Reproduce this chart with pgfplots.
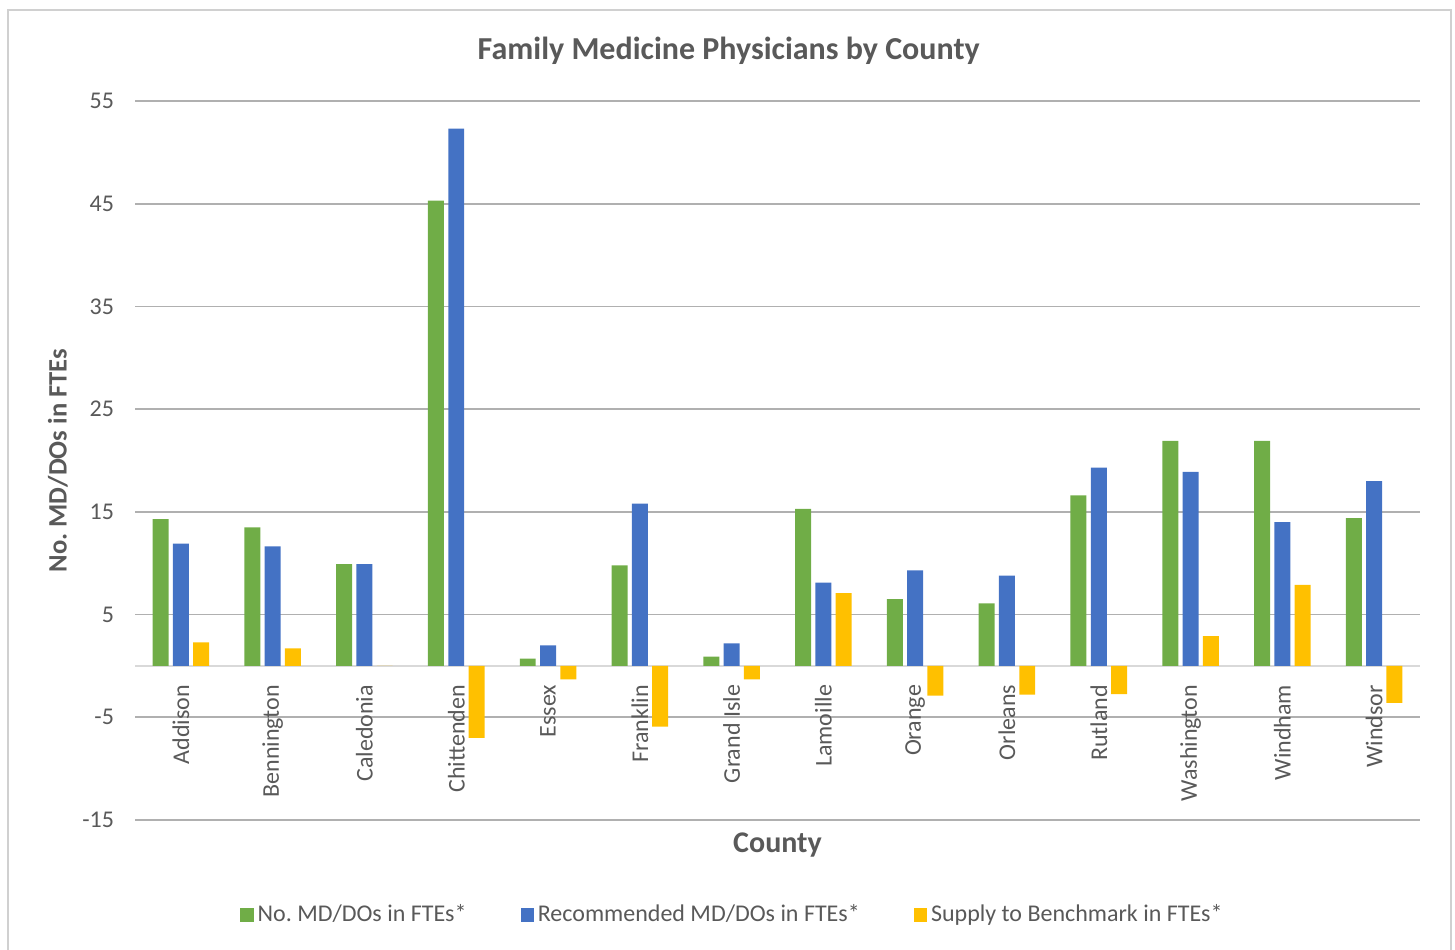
\documentclass[border=0pt]{standalone}
\usepackage{pgfplots}
\pgfplotsset{compat=1.18}
\usepackage{fontspec}
\setmainfont{Carlito}
\definecolor{cgreen}{HTML}{70AD47}
\definecolor{cblue}{HTML}{4472C4}
\definecolor{cyellow}{HTML}{FFC000}
\definecolor{ctext}{HTML}{595959}
\definecolor{cgrid}{HTML}{B0B0B0}
\definecolor{czero}{HTML}{D9D9D9}
\definecolor{cborder}{HTML}{D0D0D0}
\begin{document}
\begin{tikzpicture}
\path[use as bounding box] (0pt,0pt) rectangle (727.5pt,474.5pt);
\draw[cborder, line width=1pt] (3.75pt,-5pt) -- (3.75pt,469.25pt) -- (725.5pt,469.25pt) -- (725.5pt,-5pt);
\begin{axis}[
  scale only axis,
  width=642.5pt, height=359.5pt,
  at={(67.5pt,64.5pt)}, anchor=south west,
  xmin=-0.5, xmax=13.5,
  ymin=-15, ymax=55,
  ytick={-15,-5,5,15,25,35,45,55},
  xtick={0,...,13},
  xticklabels={Addison,Bennington,Caledonia,Chittenden,Essex,Franklin,Grand Isle,Lamoille,Orange,Orleans,Rutland,Washington,Windham,Windsor},
  axis x line*=middle,
  axis y line*=left,
  y axis line style={draw=none},
  x axis line style={draw=czero, line width=1.2pt},
  major tick length=0pt,
  ymajorgrids,
  grid style={cgrid, line width=0.8pt},
  xticklabel style={rotate=90, anchor=east, font=\fontsize{12}{14}\selectfont, text=ctext, xshift=-6pt},
  yticklabel style={font=\fontsize{12}{14}\selectfont, text=ctext, xshift=-7pt},
  /pgf/number format/assume math mode=true,
  ybar, bar width=0.174,
  clip=false,
  legend style={at={(0.4658,-0.132)}, anchor=center, draw=none, legend columns=3,
    font=\fontsize{12}{14}\selectfont, text=ctext,
    /tikz/every even column/.append style={column sep=25pt}},
  legend image code/.code={\fill[#1] (0pt,-3.3pt) rectangle (6.6pt,3.3pt);},
]
\addplot[fill=cgreen, draw=none, bar shift=-0.221] coordinates {
 (0,14.3) (1,13.5) (2,9.9) (3,45.3) (4,0.7) (5,9.8) (6,0.9) (7,15.3) (8,6.5) (9,6.1) (10,16.6) (11,21.9) (12,21.9) (13,14.4)};
\addplot[fill=cblue, draw=none, bar shift=0] coordinates {
 (0,11.9) (1,11.65) (2,9.9) (3,52.3) (4,2.0) (5,15.8) (6,2.2) (7,8.1) (8,9.3) (9,8.8) (10,19.3) (11,18.9) (12,14.0) (13,18.0)};
\addplot[fill=cyellow, draw=none, bar shift=0.221] coordinates {
 (0,2.3) (1,1.7) (2,0) (3,-7.0) (4,-1.3) (5,-5.9) (6,-1.3) (7,7.1) (8,-2.9) (9,-2.8) (10,-2.75) (11,2.9) (12,7.9) (13,-3.6)};
\legend{No.\ MD/DOs in FTEs*, Recommended MD/DOs in FTEs*, Supply to Benchmark in FTEs*}
\node[font=\bfseries\fontsize{16}{18}\selectfont, text=ctext] at (axis description cs:0.462,1.07) {Family Medicine Physicians by County};
\node[font=\bfseries\fontsize{15}{17}\selectfont, text=ctext] at (axis description cs:0.5,-0.035) {County};
\node[font=\bfseries\fontsize{13.3}{15}\selectfont, text=ctext, rotate=90] at (axis description cs:-0.06,0.5) {No.\ MD/DOs in FTEs};
\end{axis}
\end{tikzpicture}
\end{document}
